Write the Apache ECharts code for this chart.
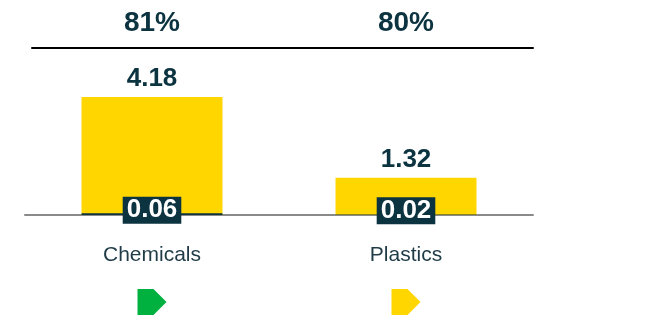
<!DOCTYPE html>
<html>
<head>
<meta charset="utf-8">
<script src="https://cdn.jsdelivr.net/npm/echarts@6/dist/echarts.min.js"></script>
<style>
html,body{margin:0;padding:0;background:#fff;}
#chart{width:646px;height:329px;}
</style>
</head>
<body>
<div id="chart"></div>
<script>
// ---- data ----
const categories = ['Chemicals', 'Plastics'];
const shareLabels = ['81%', '80%'];
const mainValues = [4.18, 1.32];
const smallValues = [0.06, 0.02];
const statuses = ['green', 'yellow'];

const NAVY = '#0c3340';
const statusColor = { green: '#00b140', yellow: '#ffd600' };

const chart = echarts.init(document.getElementById('chart'));
const arrow = 'path://M0,0 L16,0 L29,13 L16,26 L0,26 Z';
const FONT = 'Liberation Sans, Arial, sans-serif';

chart.setOption({
  animation: false,
  grid: [
    { left: 25, right: 113, top: 48, bottom: 114 },
    { left: 32, right: 113, top: 48, height: 0 },
    { left: 25, right: 113, top: 289, height: 26 }
  ],
  xAxis: [
    {
      type: 'category', gridIndex: 0, data: categories,
      axisLine: { lineStyle: { color: '#8a8a8a', width: 2 } },
      axisTick: { show: false },
      axisLabel: { color: '#1e3b46', fontSize: 21, fontFamily: FONT, margin: 30 }
    },
    {
      type: 'category', gridIndex: 0, position: 'top', data: shareLabels,
      axisLine: { show: false }, axisTick: { show: false },
      axisLabel: { color: NAVY, fontSize: 28, fontWeight: 'bold', fontFamily: FONT, margin: 11 }
    },
    {
      type: 'category', gridIndex: 1, position: 'top', data: categories,
      axisLine: { lineStyle: { color: '#000', width: 2 } },
      axisTick: { show: false }, axisLabel: { show: false }
    },
    {
      type: 'category', gridIndex: 2, data: categories, show: false
    }
  ],
  yAxis: [
    { type: 'value', gridIndex: 0, min: 0, max: 5.92, show: false },
    { type: 'value', gridIndex: 1, show: false },
    { type: 'value', gridIndex: 2, min: 0, max: 1, show: false }
  ],
  series: [
    {
      type: 'bar', xAxisIndex: 0, yAxisIndex: 0, data: mainValues,
      barWidth: '55.5%', barGap: '-100%',
      itemStyle: { color: '#ffd600' },
      label: {
        show: true, position: 'top', distance: 5,
        color: NAVY, fontSize: 26, fontWeight: 'bold', fontFamily: FONT,
        formatter: p => p.value.toFixed(2)
      }
    },
    {
      type: 'bar', xAxisIndex: 0, yAxisIndex: 0, data: smallValues,
      barWidth: '55.5%', barGap: '-100%',
      itemStyle: { color: NAVY },
      label: {
        show: true, position: 'inside', offset: [0, -4],
        color: '#fff', fontSize: 26, fontWeight: 'bold', fontFamily: FONT,
        backgroundColor: NAVY, padding: [1, 4, 0, 4],
        formatter: p => p.value.toFixed(2)
      }
    },
    {
      type: 'scatter', xAxisIndex: 3, yAxisIndex: 2,
      symbol: arrow, symbolSize: [29, 26],
      itemStyle: { opacity: 1 },
      data: statuses.map(s => ({ value: 0.5, itemStyle: { color: statusColor[s], opacity: 1 } }))
    }
  ]
});
</script>
</body>
</html>
